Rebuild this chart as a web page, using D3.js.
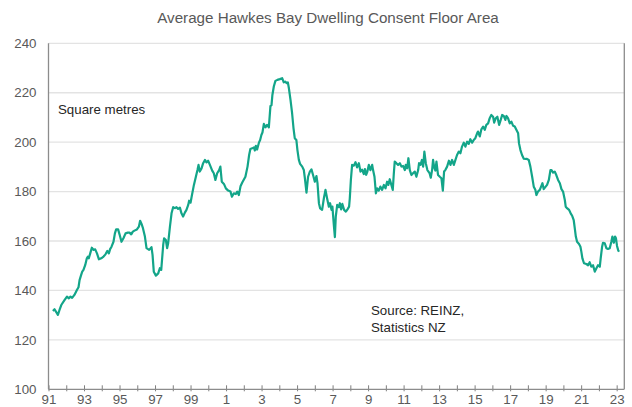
<!DOCTYPE html>
<html>
<head>
<meta charset="utf-8">
<script src="https://cdn.jsdelivr.net/npm/d3@7"></script>
<style>
  html, body { margin: 0; padding: 0; background: #fff; }
  svg { display: block; font-family: "Liberation Sans", Arial, sans-serif; }
</style>
</head>
<body>
<svg id="chart" width="632" height="407"></svg>
<script>
// Average floor area of dwelling consents, Hawke's Bay (square metres)
const periods = [
  1991.25,1991.34,1991.53,1991.62,1991.72,1991.90,1992.04,1992.15,1992.24,1992.33,
  1992.46,1992.60,1992.69,1992.75,1992.84,1992.90,1992.97,1993.07,1993.16,1993.22,
  1993.27,1993.35,1993.44,1993.53,1993.63,1993.73,1993.84,1993.97,1994.10,1994.21,
  1994.31,1994.40,1994.47,1994.55,1994.66,1994.74,1994.81,1994.92,1995.00,1995.11,
  1995.22,1995.34,1995.47,1995.56,1995.66,1995.75,1995.84,1995.98,1996.09,1996.16,
  1996.24,1996.32,1996.43,1996.52,1996.67,1996.80,1996.86,1996.93,1997.05,1997.18,
  1997.27,1997.35,1997.46,1997.51,1997.61,1997.68,1997.74,1997.84,1997.93,1998.02,
  1998.12,1998.21,1998.30,1998.40,1998.49,1998.58,1998.68,1998.77,1998.87,1998.92,
  1999.00,1999.07,1999.19,1999.30,1999.39,1999.45,1999.52,1999.62,1999.71,1999.81,
  1999.90,1999.99,2000.09,2000.22,2000.31,2000.40,2000.50,2000.61,2000.68,2000.76,
  2000.88,2000.99,2001.12,2001.25,2001.33,2001.44,2001.55,2001.63,2001.72,2001.82,
  2001.92,2002.09,2002.21,2002.30,2002.37,2002.47,2002.57,2002.62,2002.68,2002.75,
  2002.85,2002.92,2002.99,2003.05,2003.13,2003.22,2003.31,2003.41,2003.50,2003.56,
  2003.61,2003.69,2003.78,2003.89,2004.03,2004.16,2004.25,2004.33,2004.42,2004.48,
  2004.54,2004.63,2004.72,2004.80,2004.87,2004.96,2005.02,2005.10,2005.17,2005.29,
  2005.38,2005.44,2005.53,2005.62,2005.72,2005.81,2005.90,2006.00,2006.09,2006.15,
  2006.23,2006.30,2006.41,2006.51,2006.60,2006.69,2006.79,2006.86,2006.94,2006.99,
  2007.07,2007.13,2007.18,2007.26,2007.35,2007.41,2007.48,2007.55,2007.65,2007.75,
  2007.84,2007.93,2007.97,2008.03,2008.10,2008.20,2008.29,2008.38,2008.48,2008.57,
  2008.66,2008.76,2008.82,2008.89,2008.96,2009.04,2009.13,2009.23,2009.28,2009.36,
  2009.44,2009.51,2009.60,2009.69,2009.79,2009.89,2009.98,2010.07,2010.14,2010.22,
  2010.31,2010.39,2010.45,2010.50,2010.59,2010.69,2010.79,2010.88,2010.97,2011.07,
  2011.12,2011.20,2011.27,2011.35,2011.44,2011.53,2011.63,2011.72,2011.82,2011.87,
  2011.95,2012.03,2012.10,2012.17,2012.25,2012.34,2012.46,2012.53,2012.61,2012.66,
  2012.72,2012.79,2012.85,2012.94,2013.04,2013.13,2013.21,2013.28,2013.35,2013.45,
  2013.55,2013.64,2013.73,2013.83,2013.92,2014.01,2014.11,2014.20,2014.29,2014.39,
  2014.48,2014.58,2014.67,2014.76,2014.86,2014.95,2015.04,2015.14,2015.19,2015.29,
  2015.38,2015.48,2015.57,2015.66,2015.76,2015.85,2015.94,2016.04,2016.10,2016.19,
  2016.28,2016.38,2016.47,2016.55,2016.64,2016.73,2016.79,2016.88,2016.98,2017.07,
  2017.17,2017.26,2017.35,2017.45,2017.50,2017.58,2017.67,2017.77,2017.86,2017.95,
  2018.05,2018.14,2018.24,2018.33,2018.42,2018.48,2018.57,2018.67,2018.76,2018.82,
  2018.89,2018.98,2019.08,2019.18,2019.27,2019.33,2019.42,2019.51,2019.60,2019.70,
  2019.80,2019.89,2019.98,2020.08,2020.13,2020.22,2020.32,2020.41,2020.50,2020.58,
  2020.64,2020.70,2020.77,2020.88,2020.96,2021.01,2021.07,2021.16,2021.29,2021.39,
  2021.48,2021.57,2021.67,2021.77,2021.86,2021.95,2022.05,2022.10,2022.18,2022.23,
  2022.33,2022.42,2022.51,2022.61,2022.70,2022.76,2022.84,2022.91,2022.96,2023.02,
  2023.08,2023.13
];

const floorArea = [
  131.7,132.4,130.1,132.1,134.1,136.1,137.5,136.8,137.5,137.0,
  138.2,140.2,141.3,144.2,146.3,147.6,148.3,150.3,153.0,153.7,
  153.0,155.0,157.3,156.4,156.6,155.0,152.6,153.0,153.7,154.6,
  156.0,155.0,156.7,157.7,159.7,163.1,164.7,164.7,162.7,159.7,
  161.1,163.1,163.4,163.4,162.7,163.8,164.2,164.7,165.8,168.2,
  166.9,165.2,161.8,157.1,156.4,157.5,154.4,147.6,146.0,146.9,
  149.0,148.3,158.4,161.1,160.4,157.1,159.1,165.8,171.2,173.7,
  173.3,173.7,173.0,173.5,171.2,169.9,171.5,172.6,174.6,176.3,
  175.5,178.2,182.7,186.0,188.7,190.8,188.1,189.4,191.5,192.8,
  191.8,192.5,190.8,188.5,187.4,184.7,187.4,188.7,190.1,184.0,
  183.1,181.3,180.4,180.0,177.9,179.3,179.0,180.0,178.6,182.3,
  183.8,186.0,190.1,194.8,197.2,197.5,197.9,196.6,198.5,197.0,
  199.8,200.9,202.9,203.9,207.4,206.0,207.0,206.0,214.6,215.0,
  219.1,222.5,224.8,225.2,225.5,225.9,224.2,224.5,223.9,224.2,
  221.8,217.1,211.7,205.6,201.6,200.9,196.8,192.8,191.2,190.1,
  188.7,185.4,179.6,186.0,188.1,189.0,186.7,184.0,186.3,183.4,
  175.3,173.2,172.6,177.3,180.7,177.3,173.9,175.3,172.6,173.9,
  166.5,161.6,169.9,174.6,173.7,175.3,172.8,175.0,172.6,171.9,
  172.8,173.9,177.3,184.7,190.8,190.5,191.9,189.8,191.5,188.1,
  188.9,187.1,189.1,186.8,188.1,190.8,188.7,190.8,188.7,186.0,
  179.3,181.3,180.4,182.0,180.7,182.7,181.3,184.0,182.7,185.0,
  182.7,180.7,187.4,192.1,191.5,190.8,191.5,190.1,190.4,188.7,
  190.8,189.4,193.5,188.7,186.7,187.4,188.1,186.0,188.7,191.5,
  190.8,192.8,190.1,196.2,191.5,188.7,187.5,185.6,189.0,192.8,
  190.0,188.5,192.1,186.7,186.0,185.4,180.4,188.1,188.7,190.1,
  192.5,190.8,192.8,190.8,192.8,194.8,196.2,195.5,198.2,199.8,
  198.2,200.2,199.3,201.2,199.8,200.9,201.6,203.6,204.3,202.3,
  205.2,206.3,205.0,207.0,207.6,209.7,211.0,210.3,207.9,209.7,
  210.3,207.0,209.0,211.0,210.6,209.0,210.6,209.7,207.6,208.3,
  206.6,206.3,205.0,203.6,199.5,196.8,194.8,193.3,193.2,193.2,
  192.8,190.1,186.0,182.0,180.7,178.6,180.0,180.7,182.3,183.4,
  181.0,181.8,182.7,184.7,188.7,188.7,187.7,188.1,186.7,184.7,
  183.4,181.0,180.0,176.6,173.9,173.2,172.6,171.2,170.1,168.5,
  165.2,161.8,159.7,158.8,157.7,155.7,153.0,151.0,150.7,150.2,
  151.4,149.6,150.2,147.6,149.0,150.2,149.6,153.0,157.7,159.3,
  159.1,157.1,156.8,157.1,159.7,161.8,159.3,161.8,161.1,158.0,
  156.4,155.7
];

const yTicks = [100, 120, 140, 160, 180, 200, 220, 240];
const yearTicks = d3.range(1991, 2024);          // a tick at the start of every year
const labelledYears = yearTicks.filter(y => y % 2 === 1);

const titleText = "Average Hawkes Bay Dwelling Consent Floor Area";
const unitText = "Square metres";
const sourceLines = ["Source: REINZ,", "Statistics NZ"];

const svg = d3.select("#chart");
const plot = { left: 48.5, right: 624.3, top: 43.3, bottom: 389.3 };

const x = d3.scaleLinear().domain([1991, 2023.43]).range([plot.left, plot.right]);
const y = d3.scaleLinear().domain([100, 240]).range([plot.bottom, plot.top]);

// Horizontal gridlines
svg.append("g")
  .selectAll("line")
  .data(yTicks.filter(t => t > 100))
  .join("line")
  .attr("x1", plot.left).attr("x2", plot.right)
  .attr("y1", d => y(d)).attr("y2", d => y(d))
  .attr("stroke", "#e3e3e3").attr("stroke-width", 1.3);

// Y-axis labels
const yAxis = svg.append("g")
  .attr("transform", `translate(${plot.left},0)`)
  .call(d3.axisLeft(y).tickValues(yTicks).tickSize(0).tickPadding(12));
yAxis.select(".domain").remove();
yAxis.selectAll("text")
  .attr("fill", "#595959").attr("font-size", 13.3)
  .attr("font-family", "Liberation Sans, Arial, sans-serif");

// X-axis ticks (every year) with two-digit labels on odd years
const xAxis = svg.append("g")
  .attr("transform", `translate(0,${plot.bottom - 4})`)
  .call(d3.axisBottom(x).tickValues(yearTicks).tickSize(6).tickPadding(3.5)
    .tickFormat(d => labelledYears.includes(d) ? String(d % 100) : ""));
xAxis.select(".domain").remove();
xAxis.selectAll("line").attr("stroke", "#7f7f7f").attr("stroke-width", 1);
xAxis.selectAll("text")
  .attr("fill", "#595959").attr("font-size", 13.3)
  .attr("font-family", "Liberation Sans, Arial, sans-serif");

// Frame: left and bottom axis lines, plus right edge
svg.append("line")
  .attr("x1", plot.left).attr("x2", plot.left)
  .attr("y1", plot.top).attr("y2", plot.bottom)
  .attr("stroke", "#8c8c8c").attr("stroke-width", 1.3);
svg.append("line")
  .attr("x1", plot.right).attr("x2", plot.right)
  .attr("y1", plot.top).attr("y2", plot.bottom)
  .attr("stroke", "#8c8c8c").attr("stroke-width", 1.3);
svg.append("line")
  .attr("x1", plot.left).attr("x2", plot.right)
  .attr("y1", plot.bottom).attr("y2", plot.bottom)
  .attr("stroke", "#8c8c8c").attr("stroke-width", 1.3);

// The series
const series = periods.map((p, i) => ({ t: p, v: floorArea[i] }));
svg.append("path")
  .datum(series)
  .attr("fill", "none")
  .attr("stroke", "#13a589")
  .attr("stroke-width", 2.2)
  .attr("stroke-linejoin", "round")
  .attr("d", d3.line().x(d => x(d.t)).y(d => y(d.v)));

// Title
svg.append("text")
  .attr("x", 328).attr("y", 22.5)
  .attr("text-anchor", "middle")
  .attr("font-size", 15.2)
  .attr("fill", "#595959")
  .text(titleText);

// Unit label
svg.append("text")
  .attr("x", 58).attr("y", 114)
  .attr("font-size", 13.3)
  .attr("fill", "#262626")
  .text(unitText);

// Source note
svg.append("g")
  .selectAll("text")
  .data(sourceLines)
  .join("text")
  .attr("x", 371)
  .attr("y", (d, i) => 315 + i * 16.5)
  .attr("font-size", 13.3)
  .attr("fill", "#262626")
  .text(d => d);
</script>
</body>
</html>
